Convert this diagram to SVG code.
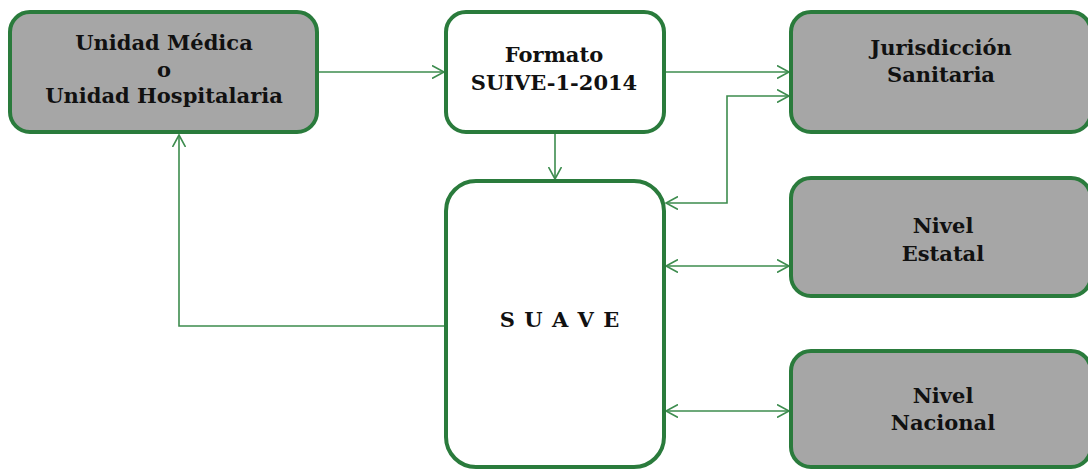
<svg xmlns="http://www.w3.org/2000/svg" width="1088" height="470" viewBox="0 0 1088 470">
<style>
.box{stroke:#2a7b3c;stroke-width:4;}
.gray{fill:#a6a6a6;}
.white{fill:#ffffff;}
.t{font-family:"DejaVu Serif","Liberation Serif",serif;font-weight:bold;font-size:21px;fill:#111111;text-anchor:middle;}
.c{fill:none;stroke:#3d8c4e;stroke-width:1.6;}
</style>
<defs>
<marker id="ah" markerWidth="14" markerHeight="14" refX="12" refY="7" orient="auto-start-reverse" markerUnits="userSpaceOnUse">
<path d="M0,0.5 L12,7 L0,13.5" fill="none" stroke="#3d8c4e" stroke-width="1.6"/>
</marker>
</defs>
<rect width="1088" height="470" fill="#ffffff"/>
<g id="connectors">
<path class="c" d="M318,72 H444" marker-end="url(#ah)"/>
<path class="c" d="M665,72 H789" marker-end="url(#ah)"/>
<path class="c" d="M666,203 H727 V96 H789" marker-start="url(#ah)" marker-end="url(#ah)"/>
<path class="c" d="M555,133 V179" marker-end="url(#ah)"/>
<path class="c" d="M666,266 H789" marker-start="url(#ah)" marker-end="url(#ah)"/>
<path class="c" d="M666,411 H789" marker-start="url(#ah)" marker-end="url(#ah)"/>
<path class="c" d="M445,326 H179 V135" marker-end="url(#ah)"/>
</g>
<g id="unidad">
<rect class="box gray" x="10" y="12" width="307" height="120" rx="20"/>
<text class="t" x="164" y="50">Unidad Médica</text>
<text class="t" x="164" y="77">o</text>
<text class="t" x="164" y="103">Unidad Hospitalaria</text>
</g>
<g id="formato">
<rect class="box white" x="446" y="12" width="218" height="120" rx="20"/>
<text class="t" x="554" y="62">Formato</text>
<text class="t" x="554" y="90">SUIVE-1-2014</text>
</g>
<g id="jurisdiccion">
<rect class="box gray" x="791" y="12" width="300" height="120" rx="20"/>
<text class="t" x="941" y="55">Jurisdicción</text>
<text class="t" x="941" y="82">Sanitaria</text>
</g>
<g id="suave">
<rect class="box white" x="446" y="181" width="218" height="286" rx="30"/>
<text class="t" x="560" y="327" style="letter-spacing:1px">S U A V E</text>
</g>
<g id="estatal">
<rect class="box gray" x="791" y="178" width="300" height="118" rx="20"/>
<text class="t" x="943" y="233">Nivel</text>
<text class="t" x="943" y="261">Estatal</text>
</g>
<g id="nacional">
<rect class="box gray" x="791" y="351" width="300" height="116" rx="20"/>
<text class="t" x="943" y="403">Nivel</text>
<text class="t" x="943" y="430">Nacional</text>
</g>
</svg>
